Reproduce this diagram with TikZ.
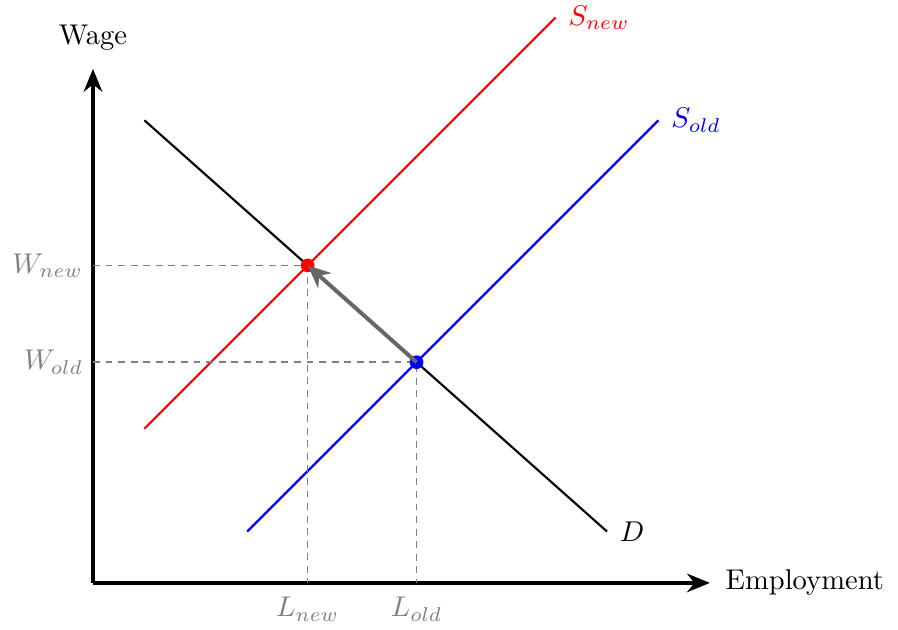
\documentclass[tikz,border=0pt]{standalone}
\usepackage{xcolor}
\usepackage{tikz}
\usetikzlibrary{arrows.meta, positioning}

\begin{document}
\begin{tikzpicture}[
    x=18pt, y=18pt,
    axis/.style={line width=1.2pt, -{Stealth[length=8pt, width=6.5pt]}},
    curve/.style={line width=0.75pt},
    guide/.style={gray, line width=0.5pt, dash pattern=on 2.4pt off 2pt},
    dot/.style={circle, inner sep=0pt, minimum size=4.8pt},
    moveto/.style={line width=1.4pt, black!60, -{Stealth[length=8pt, width=7pt]}},
    ticklbl/.style={text=gray}
]
\useasboundingbox (-1.809,-0.914) rectangle (15.66,11.34);

% Axes
\coordinate (origin) at (0,0);
\coordinate (ytop) at (0,10);
\coordinate (xend) at (12,0);
\draw[axis] (origin) -- (ytop);
\draw[axis] (origin) -- (xend);
\node[above=3pt of ytop] (wage) {Wage};
\node[right=2pt of xend] (employment) {Employment};

% Demand and supply
\coordinate (d1) at (1,9);
\coordinate (d2) at (10,1);
\coordinate (sold1) at (3,1);
\coordinate (sold2) at (11,9);
\coordinate (snew1) at (1,3);
\coordinate (snew2) at (9,11);
\draw[curve] (d1) -- (d2);
\draw[curve, blue] (sold1) -- (sold2);
\draw[curve, red] (snew1) -- (snew2);
\node[right=1pt of d2] (dlabel) {$D$};
\node[right=1pt of sold2, text=blue] (soldlabel) {$S_{old}$};
\node[right=1pt of snew2, text=red] (snewlabel) {$S_{new}$};

% Equilibria
\coordinate (eold) at ({107/17},{73/17});
\coordinate (enew) at ({71/17},{105/17});
\coordinate (wold) at (0,{73/17});
\coordinate (wnew) at (0,{105/17});
\coordinate (lold) at ({107/17},0);
\coordinate (lnew) at ({71/17},0);
\draw[guide] (wold) -- (eold) -- (lold);
\draw[guide] (wnew) -- (enew) -- (lnew);
\node[ticklbl, left=0pt of wold] (woldlabel) {$W_{old}$};
\node[ticklbl, left=0pt of wnew] (wnewlabel) {$W_{new}$};
\node[ticklbl, below=1.5pt of lold] (loldlabel) {$L_{old}$};
\node[ticklbl, below=1.5pt of lnew] (lnewlabel) {$L_{new}$};

\node[dot, fill=blue] (oldpt) at (eold) {};
\node[dot, fill=red] (newpt) at (enew) {};
\draw[moveto] (oldpt.center) -- (newpt.center);

\end{tikzpicture}
\end{document}
